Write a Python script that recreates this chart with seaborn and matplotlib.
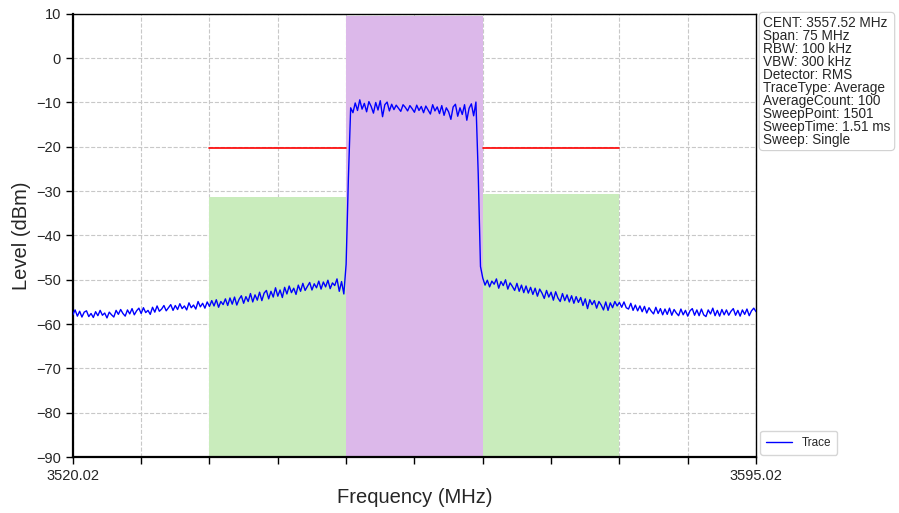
import numpy as np
import matplotlib
matplotlib.use("Agg")
from matplotlib import pyplot as plt
import seaborn as sns

# sweep: 3520.02 .. 3595.02 MHz, one value every 0.25 MHz
f_start = 3520.02
f_step = 0.25

lower_floor = [-57.9, -56.8, -58.2, -57.1, -58.4, -57.3, -57.0, -58.3, -57.6, -58.5,
               -57.2, -58.1, -56.9, -58.0, -57.5, -58.6, -57.3, -57.9, -58.4, -56.9,
               -57.8, -56.7, -57.6, -58.2, -56.8, -57.7, -56.5, -57.9, -57.0, -56.4,
               -57.6, -56.3, -57.4, -56.9, -57.8, -56.2, -57.3, -55.9, -57.1, -56.6,
               -55.8, -57.0, -56.3, -55.6, -56.9, -55.8, -56.7, -55.4, -56.5, -55.9,
               -56.8, -55.2, -56.3, -55.7, -56.6, -54.9, -56.1, -55.3, -56.4, -55.0]
lower_adj = [-56.0, -54.7, -55.9, -54.5, -56.2, -54.9, -55.6, -54.3, -55.8, -54.1,
             -55.5, -53.9, -55.7, -54.4, -53.6, -55.3, -53.8, -54.9, -53.1, -55.0,
             -53.4, -54.6, -52.8, -54.7, -53.0, -52.4, -54.3, -52.6, -53.9, -51.8,
             -53.7, -52.3, -54.0, -51.7, -53.2, -51.4, -52.9, -51.9, -53.3, -51.2,
             -52.6, -50.8, -52.4, -51.5, -50.6, -52.3, -50.9, -51.8, -50.3, -52.1,
             -50.5, -51.6, -50.1, -52.0, -50.7, -51.3, -49.8, -52.6, -50.4, -53.2]
channel = [-46.5, -27.0, -11.2, -12.3, -10.1, -11.8, -9.4, -11.5, -10.2, -12.1,
           -9.8, -10.9, -12.4, -10.0, -11.7, -9.6, -13.2, -10.5, -9.9, -11.9,
           -10.4, -11.6, -10.6, -11.3, -12.0, -10.5, -11.1, -11.9, -10.7, -11.4,
           -12.2, -10.6, -11.8, -10.9, -12.3, -10.8, -11.7, -12.6, -10.5, -11.9,
           -11.0, -12.5, -10.7, -12.9, -11.2, -12.1, -13.8, -11.0, -10.4, -13.1,
           -11.2, -12.7, -10.5, -14.0, -11.3, -10.3, -13.0, -9.9, -26.0, -47.0]
upper_adj = [-49.6, -51.2, -50.1, -51.6, -50.3, -51.0, -49.8, -51.9, -50.4, -51.3,
             -50.0, -52.1, -50.7, -51.5, -52.4, -50.8, -52.6, -51.2, -52.9, -51.4,
             -53.0, -51.7, -53.3, -51.9, -53.7, -52.1, -53.0, -54.2, -52.4, -53.9,
             -52.8, -54.6, -52.7, -54.1, -54.9, -53.1, -54.7, -53.4, -55.0, -53.6,
             -55.3, -53.8, -55.1, -54.0, -55.8, -54.3, -56.5, -54.5, -55.6, -54.7,
             -56.4, -54.9, -55.7, -56.8, -55.0, -56.9, -55.2, -56.3, -54.9, -55.9]
upper_floor = [-55.1, -56.2, -55.0, -56.3, -56.6, -55.3, -56.9, -55.7, -57.0, -55.9,
               -57.2, -56.0, -57.5, -56.3, -57.1, -57.7, -56.2, -57.6, -56.5, -57.9,
               -56.6, -57.8, -56.4, -58.0, -56.7, -57.5, -58.1, -56.6, -57.9, -56.9,
               -58.2, -57.0, -56.5, -58.0, -56.8, -58.1, -56.6, -57.9, -58.3, -56.8,
               -57.7, -56.4, -58.1, -56.9, -58.2, -56.7, -57.9, -56.8, -58.0, -57.1,
               -56.5, -58.0, -56.9, -58.2, -56.8, -57.8, -56.6, -58.1, -57.0, -56.4, -57.2]

# mask areas: start, end, top (dBm)
mask_starts = [3535.02, 3550.02, 3565.02]
mask_ends = [3550.02, 3565.02, 3580.02]
mask_tops = [-31.3, 9.5, -30.6]
mask_colors = ["#c9ecbc", "#dcb8ea", "#c9ecbc"]

# limit line segments
limit_x = [[3535.02, 3550.02], [3565.02, 3580.02]]
limit_y = [-20.3, -20.3]

info_lines = ["CENT: 3557.52 MHz", "Span: 75 MHz", "RBW: 100 kHz", "VBW: 300 kHz",
              "Detector: RMS", "TraceType: Average", "AverageCount: 100",
              "SweepPoint: 1501", "SweepTime: 1.51 ms", "Sweep: Single"]

level = lower_floor + lower_adj + channel + upper_adj + upper_floor
freq = f_start + f_step * np.arange(len(level))

sns.set_style("whitegrid", {"grid.linestyle": "--", "grid.color": "#c8c8c8",
                            "axes.edgecolor": "black"})
plt.rcParams["font.family"] = ["Liberation Sans", "DejaVu Sans"]

fig = plt.figure(figsize=(8.99, 5.13), dpi=100)
ax = fig.add_axes([0.081, 0.109, 0.760, 0.864])

y_bottom = -90
for s, e, t, c in zip(mask_starts, mask_ends, mask_tops, mask_colors):
    ax.bar(s, t - y_bottom, width=e - s, bottom=y_bottom, align="edge",
           color=c, edgecolor="none", zorder=1)

for xs, y in zip(limit_x, limit_y):
    ax.plot(xs, [y, y], color="red", lw=1.2, zorder=2)

sns.lineplot(x=freq, y=level, ax=ax, color="blue", lw=1.0, label="Trace", zorder=3)

ax.set_xlim(3520.02, 3595.02)
ax.set_ylim(-90, 10)
xt = [3520.02 + 7.5 * i for i in range(11)]
ax.set_xticks(xt)
ax.set_xticklabels(["3520.02"] + [""] * 9 + ["3595.02"])
ax.set_yticks(range(-90, 11, 10))
ax.tick_params(axis="both", which="both", direction="out", length=5, width=1,
               color="black", labelsize=10.5, bottom=True, left=True)
ax.set_axisbelow(True)
for side in ["left", "bottom", "top", "right"]:
    ax.spines[side].set_color("black")
ax.spines["left"].set_linewidth(1.6)
ax.spines["bottom"].set_linewidth(1.6)
ax.spines["top"].set_linewidth(1.0)
ax.spines["right"].set_linewidth(1.0)

ax.set_xlabel("Frequency (MHz)", fontsize=14.5)
ax.set_ylabel("Level (dBm)", fontsize=14.5)

ax.legend(loc="lower left", bbox_to_anchor=(1.003, 0.0), fontsize=8.5,
          frameon=True, handlelength=2.2, borderpad=0.5, borderaxespad=0.2)

fig.text(0.849, 0.968, "\n".join(info_lines), fontsize=9.8, linespacing=0.9,
         va="top", ha="left",
         bbox=dict(boxstyle="round,pad=0.3", fc="white", ec="#d0d0d0", lw=0.8))

fig.savefig("out.png", dpi=100)
